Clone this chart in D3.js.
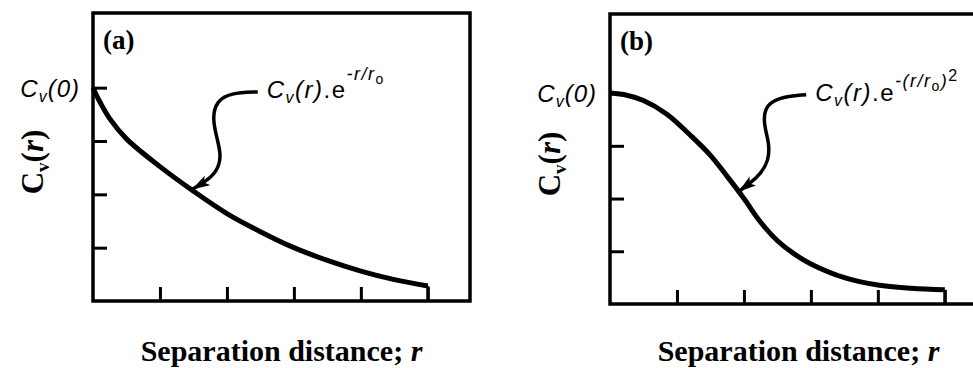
<!DOCTYPE html>
<html>
<head>
<meta charset="utf-8">
<script src="https://cdn.jsdelivr.net/npm/d3@7"></script>
<style>
body { margin: 0; background: #fff; }
</style>
</head>
<body>
<script>
// separation distance (in tick units) and correlation
var rA = [0, 0.1, 0.25, 0.5, 1, 1.5, 2, 2.5, 3, 3.5, 4, 4.5, 5];
var cA = [4.0, 3.74, 3.42, 3.04, 2.52, 2.06, 1.64, 1.30, 1.0, 0.76, 0.56, 0.40, 0.28];

var rB = [0, 0.25, 0.5, 0.85, 1.2, 1.5, 1.75, 2, 2.25, 2.5, 2.75, 3, 3.5, 4, 4.5, 5];
var cB = [4.0, 3.96, 3.86, 3.6, 3.2, 2.82, 2.42, 2.0, 1.55, 1.2, 0.95, 0.76, 0.5, 0.36, 0.3, 0.27];

var xTicks = [1, 2, 3, 4, 5];
var yTicks = [1, 2, 3, 4];

// annotation arrows, in data units (from the label to the curve)
var arrowA = [[2.46, 3.92], [2.05, 3.9], [1.85, 3.75], [1.78, 3.45], [1.85, 3.05], [1.92, 2.72], [1.85, 2.42], [1.68, 2.24], [1.49, 2.1]];
var arrowB = [[2.93, 3.97], [2.5, 3.92], [2.3, 3.72], [2.3, 3.38], [2.38, 3.05], [2.37, 2.72], [2.25, 2.47], [2.1, 2.3], [1.93, 2.14]];

var panelLabels = ["(a)", "(b)"];

var svg = d3.select("body").append("svg")
	.attr("width", 973).attr("height", 368);

var panels = [
	{ left: 93, top: 13, right: 470, bottom: 301, yMax: 5.4, r: rA, c: cA, arrow: arrowA, label: panelLabels[0], expo: "a" },
	{ left: 610, top: 14, right: 987, bottom: 304, yMax: 5.5, r: rB, c: cB, arrow: arrowB, label: panelLabels[1], expo: "b" }
];

var defs = svg.append("defs");
defs.append("marker").attr("id", "head")
	.attr("markerUnits", "userSpaceOnUse")
	.attr("markerWidth", 18).attr("markerHeight", 12)
	.attr("refX", 17).attr("refY", 6)
	.attr("orient", "auto")
	.append("path").attr("d", "M0,0.5 L18,6 L0,11.5 L4,6 Z").attr("fill", "#000");

var sans = "'Liberation Sans', Arial, sans-serif";
var serif = "'Liberation Serif', 'Times New Roman', serif";

panels.forEach(function (p) {
	var x = d3.scaleLinear().domain([0, 5.63]).range([p.left, p.right]);
	var y = d3.scaleLinear().domain([0, p.yMax]).range([p.bottom, p.top]);
	var g = svg.append("g");

	// frame
	g.append("rect").attr("x", p.left).attr("y", p.top)
		.attr("width", p.right - p.left).attr("height", p.bottom - p.top)
		.attr("fill", "none").attr("stroke", "#000").attr("stroke-width", 3.5);

	// inward ticks
	var ya = g.append("g").attr("transform", "translate(" + p.left + ",0)")
		.call(d3.axisRight(y).tickValues(yTicks).tickSize(14).tickFormat(""));
	var xa = g.append("g").attr("transform", "translate(0," + p.bottom + ")")
		.call(d3.axisTop(x).tickValues(xTicks).tickSize(14).tickFormat(""));
	[ya, xa].forEach(function (a) {
		a.select(".domain").remove();
		a.selectAll("line").attr("stroke", "#000").attr("stroke-width", 3);
	});

	// curve
	var pts = p.r.map(function (d, i) { return [d, p.c[i]]; });
	var line = d3.line().x(function (d) { return x(d[0]); }).y(function (d) { return y(d[1]); });
	g.append("path").attr("d", line.curve(d3.curveCatmullRom.alpha(0.5))(pts))
		.attr("fill", "none").attr("stroke", "#000").attr("stroke-width", 5);
	var last = pts[pts.length - 1];
	g.append("path").attr("d", line.curve(d3.curveLinear)([last, [last[0], 0]]))
		.attr("fill", "none").attr("stroke", "#000").attr("stroke-width", 3);

	// arrow
	g.append("path").attr("d", line.curve(d3.curveBasis)(p.arrow))
		.attr("fill", "none").attr("stroke", "#000").attr("stroke-width", 3.5)
		.attr("marker-end", "url(#head)");

	// panel label
	g.append("text").attr("x", p.left + 10).attr("y", p.top + 36)
		.style("font-family", serif).style("font-weight", "bold").style("font-size", "27px")
		.text(p.label);

	// Cv(0)
	var c0 = g.append("text").attr("x", p.left - 13).attr("y", y(4) + 9)
		.attr("text-anchor", "end")
		.style("font-family", sans).style("font-style", "italic").style("font-size", "24px")
		.style("letter-spacing", "1px");
	c0.append("tspan").text("C");
	c0.append("tspan").attr("dy", 5).style("font-size", "16px").text("v");
	c0.append("tspan").attr("dy", -5).text("(0)");

	// y label
	var yl = g.append("text")
		.attr("transform", "translate(" + (p.left - 50) + "," + ((p.top + p.bottom) / 2 + 5) + ") rotate(-90)")
		.attr("text-anchor", "middle")
		.style("font-family", serif).style("font-weight", "bold").style("font-size", "31px");
	yl.append("tspan").text("C");
	yl.append("tspan").attr("dy", 6).style("font-size", "19px").text("v");
	yl.append("tspan").attr("dy", -6).text("(");
	yl.append("tspan").style("font-style", "italic").text("r");
	yl.append("tspan").text(")");

	// x label
	var xl = g.append("text").attr("x", (p.left + p.right) / 2).attr("y", 361)
		.attr("text-anchor", "middle")
		.style("font-family", serif).style("font-weight", "bold").style("font-size", "30px");
	xl.append("tspan").text("Separation distance; ");
	xl.append("tspan").style("font-style", "italic").text("r");

	// annotation text
	var a0 = p.arrow[0];
	var an = g.append("text").attr("x", x(a0[0]) + 9).attr("y", y(a0[1]) + 6)
		.style("font-family", sans).style("font-size", "24px").style("letter-spacing", "1.5px");
	an.append("tspan").style("font-style", "italic").text("C");
	an.append("tspan").attr("dy", 5).style("font-style", "italic").style("font-size", "16px").text("v");
	an.append("tspan").attr("dy", -5).style("font-style", "italic").text("(r)");
	an.append("tspan").text(".e");
	if (p.expo === "a") {
		an.append("tspan").attr("dy", -18).style("font-style", "italic").style("font-size", "18px").text("-r/r");
		an.append("tspan").attr("dy", 4).style("font-size", "14px").text("o");
	} else {
		an.append("tspan").attr("dy", -14).style("font-style", "italic").style("font-size", "18px").text("-(r/r");
		an.append("tspan").attr("dy", 4).style("font-size", "14px").text("o");
		an.append("tspan").attr("dy", -4).style("font-style", "italic").style("font-size", "18px").text(")");
		an.append("tspan").attr("dy", -6).style("font-size", "16px").text("2");
	}
});
</script>
</body>
</html>
